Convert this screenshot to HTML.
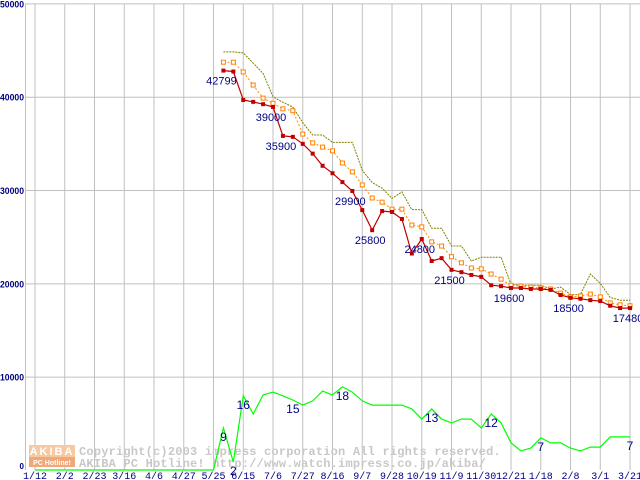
<!DOCTYPE html>
<html><head><meta charset="utf-8"><style>
body{margin:0;background:#fff;width:640px;height:480px;overflow:hidden}
svg{display:block;font-family:"Liberation Mono",monospace}
</style></head><body>
<svg id="chart" width="640" height="480" viewBox="0 0 640 480">
<g id="grid"></g>
<g id="wm">
  <rect x="29" y="445" width="46" height="12" fill="#f8c8a0"/>
  <rect x="29" y="457" width="46" height="10" fill="#f0a878"/>
  <text x="52" y="455" fill="#fff" font-size="11" font-weight="bold" text-anchor="middle" letter-spacing="2" font-family="Liberation Sans,sans-serif">AKIBA</text>
  <text x="52" y="465" fill="#fff" font-size="7" font-weight="bold" text-anchor="middle" font-family="Liberation Sans,sans-serif">PC Hotline!</text>
  <text x="79" y="455" fill="#c8c8c8" font-size="12" font-weight="bold" letter-spacing="0.2">Copyright(c)2003 impress corporation All rights reserved.</text>
  <text x="79" y="467" fill="#c8c8c8" font-size="12" font-weight="bold" letter-spacing="0.2">AKIBA PC Hotline! http://www.watch.impress.co.jp/akiba/</text>
</g>
<g id="series"></g>
<g id="labels"></g>
</svg>
<script>
const xTickLabels=["1/12","2/2","2/23","3/16","4/6","4/27","5/25","6/15","7/6","7/27","8/16","9/7","9/28","10/19","11/9","11/30","12/21","1/18","2/8","3/1","3/21"];
const yTicks=[0,10000,20000,30000,40000,50000];
const startIndex=19;
const maxPrice=[44.8,44.8,44.7,43.6,42.5,40.0,39.4,38.9,37.2,35.9,35.9,35.1,35.1,35.1,32.1,30.8,30.2,29.1,29.8,27.9,27.9,25.9,25.9,24.0,24.0,22.4,22.8,22.8,22.8,19.9,19.8,19.8,19.8,19.4,19.6,18.8,18.8,21.0,20.0,18.5,18.2,18.2];
const avgPrice=[43.7,43.7,42.65,41.25,39.85,39.3,38.7,38.5,36.0,35.05,34.6,34.2,32.9,31.95,30.55,29.15,28.7,27.95,27.95,26.25,26.05,24.45,24.0,22.85,22.2,21.65,21.55,21.0,20.45,19.8,19.7,19.6,19.5,19.4,18.95,18.55,18.65,18.85,18.55,17.9,17.7,17.6];
const minPrice=[42.8,42.7,39.65,39.45,39.2,38.9,35.8,35.7,34.95,33.9,32.6,31.8,30.85,29.9,27.85,25.7,27.75,27.65,26.9,23.2,24.75,22.4,22.7,21.45,21.2,20.9,20.7,19.8,19.7,19.5,19.5,19.4,19.4,19.3,18.75,18.45,18.35,18.2,18.1,17.6,17.35,17.35];
const shopCount=[0,0,0,0,0,0,0,0,0,0,0,0,0,0,0,0,0,0,0,9,1.7,15.9,12,16.1,16.7,15.9,15,13.9,14.8,16.9,16.1,17.8,16.7,14.8,13.9,13.9,13.9,13.9,13.1,10.9,13.1,10.9,10.1,10.9,10.9,9,12,10.1,5.8,4.1,4.7,6.9,5.8,5.8,4.7,4.1,4.9,4.9,7.1,7.1,7.1];
const priceLabelIdx=[19,24,25,32,34,39,42,48,54,60];
const priceLabelText=["42799","39000","35900","29900","25800","24800","21500","19600","18500","17480"];
const countLabelIdx=[19,20,21,26,31,40,46,51,60];
const countLabelText=["9","2","16","15","18","13","12","7","7"];

const NS="http://www.w3.org/2000/svg";
const X=i=>35+i*9.917;
const Y=v=>470-v*0.009332;
function mk(tag,attrs,parent){const e=document.createElementNS(NS,tag);for(const k in attrs)e.setAttribute(k,attrs[k]);parent.appendChild(e);return e;}
const grid=document.getElementById('grid'),ser=document.getElementById('series'),lab=document.getElementById('labels');
mk('line',{x1:25.5,y1:4,x2:25.5,y2:470,stroke:'#c0c0c0'},grid);
yTicks.forEach(v=>{
  if(v>0){const l=mk('line',{x1:25,x2:640,y1:Y(v)+0.5,y2:Y(v)+0.5,stroke:'#c0c0c0'},grid);
  
  }
  const attrs=v?{x:0,y:Y(v)+4,'font-size':9,'font-weight':'bold',fill:'#000080','font-family':'Liberation Sans,sans-serif',textLength:24,lengthAdjust:'spacingAndGlyphs'}:{x:24,y:Y(v)-1,'text-anchor':'end','font-size':8,'font-weight':'bold',fill:'#000080','font-family':'Liberation Sans,sans-serif'};
  const t=mk('text',attrs,grid);
  t.textContent=String(v);
  
  
});
xTickLabels.forEach((s,k)=>{
  const x=X(k*3);
  const l=mk('line',{x1:x,x2:x,y1:4,y2:470,stroke:'#c0c0c0'},grid);
  
  
  const t=mk('text',{x:x,y:479,'text-anchor':'middle','font-size':10,fill:'#000080'},grid);
  t.textContent=s;
  
  
});
function pts(arr,off,scale){return arr.map((v,j)=>X(j+off).toFixed(1)+','+Y(v*scale).toFixed(1)).join(' ');}
let p=mk('polyline',{points:pts(shopCount,0,500),fill:'none',stroke:'#00ff00','stroke-width':1.2},ser);


p=mk('polyline',{points:pts(maxPrice,startIndex,1000),fill:'none',stroke:'#808000','stroke-width':1,'stroke-dasharray':'2,1'},ser);


p=mk('polyline',{points:pts(avgPrice,startIndex,1000),fill:'none',stroke:'#ff8c00','stroke-width':1,'stroke-dasharray':'2,2'},ser);


avgPrice.forEach((v,j)=>{const r=mk('rect',{x:X(j+startIndex)-2,y:Y(v*1000)-2,width:4,height:4,fill:'#fff',stroke:'#ff8000','stroke-width':1},ser);
  
  });
p=mk('polyline',{points:pts(minPrice,startIndex,1000),fill:'none',stroke:'#c00000','stroke-width':1.2},ser);


minPrice.forEach((v,j)=>{const r=mk('rect',{x:X(j+startIndex)-2,y:Y(v*1000)-2,width:4,height:4,fill:'#c00000'},ser);
  
  });
priceLabelIdx.forEach((i,k)=>{
  const t=mk('text',{x:X(i)-2,y:Y(minPrice[i-startIndex]*1000)+14,'text-anchor':'middle','font-size':11,fill:'#000080','font-family':'Liberation Sans,sans-serif'},lab);
  t.textContent=priceLabelText[k];
  
  
});
countLabelIdx.forEach((i,k)=>{
  const t=mk('text',{x:X(i),y:Math.min(Y(shopCount[i]*500)+13,479),'text-anchor':'middle','font-size':12,fill:'#000080','font-family':'Liberation Sans,sans-serif'},lab);
  t.textContent=countLabelText[k];
  
  
});
</script>
</body></html>
